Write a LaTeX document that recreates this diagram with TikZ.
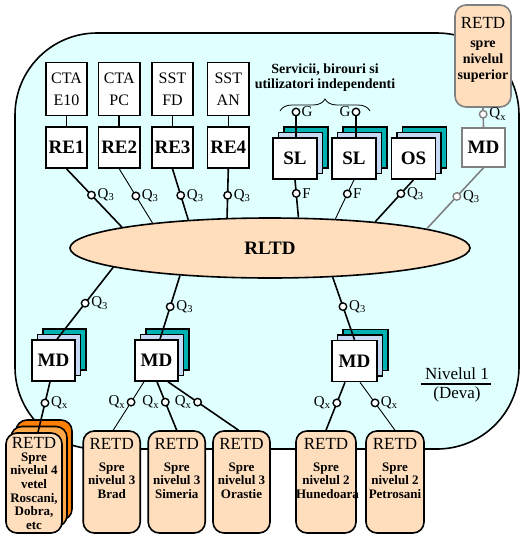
\documentclass[tikz,border=0pt]{standalone}
\usepackage{fontspec}
\setmainfont{Liberation Serif}
\usetikzlibrary{shapes.geometric,shadows,decorations.pathreplacing}
\definecolor{bgcyan}{RGB}{224,255,255}
\definecolor{peach}{RGB}{255,222,190}
\definecolor{tealc}{RGB}{0,178,178}
\definecolor{lblue}{RGB}{198,218,245}
\definecolor{orgmid}{RGB}{255,168,72}
\definecolor{orgback}{RGB}{255,128,0}
\definecolor{grayc}{RGB}{128,128,128}
\newcommand\RetdTxt[5]{\parbox[c][#1][t]{#2}{\centering\fontsize{17}{17}\selectfont RETD\par\vspace{#3}\fontsize{13}{#4}\selectfont\bfseries #5}}
\newcommand\QLab[1]{{\fontsize{15}{15}\selectfont Q\textsubscript{#1}}}
\newcommand\PLab[1]{{\fontsize{15}{15}\selectfont #1}}
\tikzset{
  plainbox/.style={draw, line width=1.6pt, fill=white, inner sep=0pt, align=center},
  ctabox/.style={plainbox, minimum width=41.5pt, minimum height=53pt, font=\fontsize{16}{22}\selectfont},
  rebox/.style={plainbox, minimum width=41.5pt, minimum height=41pt, font=\fontsize{19}{19}\selectfont\bfseries},
  stackbox/.style={plainbox, minimum width=44pt, minimum height=41pt, font=\fontsize{19}{19}\selectfont\bfseries,
    general shadow={draw, line width=1.6pt, fill=tealc, shadow xshift=11pt, shadow yshift=11pt},
    general shadow={draw, line width=1.6pt, fill=lblue, shadow xshift=5.5pt, shadow yshift=5.5pt}},
  retdbox/.style={draw, line width=1.6pt, fill=peach, rounded corners=11pt, inner sep=0pt, minimum height=102pt},
  orangestack/.style={
    general shadow={draw, line width=1.6pt, fill=orgback, shadow xshift=10pt, shadow yshift=13pt},
    general shadow={draw, line width=1.6pt, fill=orgmid, shadow xshift=5pt, shadow yshift=6.5pt}},
  conn/.style={line width=1.6pt},
  connthin/.style={line width=0.9pt},
  port/.style={circle, draw, line width=1.4pt, fill=white, inner sep=0pt, minimum size=7.5pt, label distance=1.5pt},
  qr/.style={label={[inner sep=1pt]right:\QLab{#1}}},
  ql/.style={label={[inner sep=1pt]left:\QLab{#1}}},
}
\begin{document}
\begin{tikzpicture}[x=1pt,y=-1pt]
\useasboundingbox (0,0) rectangle (525,539);
% level background
\draw[line width=1.6pt, fill=bgcyan, rounded corners=82pt] (15,33) rectangle (519,449);

% exchanges
\node[ctabox] (cta1) at (66.5,89) {CTA\\E10};
\node[ctabox] (cta2) at (119.2,89) {CTA\\PC};
\node[ctabox] (sst1) at (172.5,89) {SST\\FD};
\node[ctabox] (sst2) at (228.3,89) {SST\\AN};
\node[rebox] (re1) at (66.5,147.5) {RE1};
\node[rebox] (re2) at (119.2,147.5) {RE2};
\node[rebox] (re3) at (172.5,147.5) {RE3};
\node[rebox] (re4) at (228.3,147.5) {RE4};
\draw[conn] (cta1) -- (re1);
\draw[conn] (cta2) -- (re2);
\draw[conn] (sst1) -- (re3);
\draw[conn] (sst2) -- (re4);

% services
\node[font=\fontsize{14}{15}\selectfont\bfseries, align=center, inner sep=0pt] (serv) at (325,77.5) {Servicii, birouri si\\utilizatori independenti};
\draw[line width=0.8pt, decorate, decoration={brace, amplitude=12pt}] (280,111) -- (370,111);
\node[stackbox] (sl1) at (295,158.5) {SL};
\node[stackbox] (sl2) at (354,158.5) {SL};
\node[stackbox] (os) at (413.5,158.5) {OS};
\node[port, label={[inner sep=1pt]right:\PLab{G}}] (g1) at (296,112) {};
\node[port, label={[inner sep=1pt]left:\PLab{G}}] (g2) at (356,112) {};
\draw[conn] ([xshift=1pt]sl1.north) -- (g1);
\draw[conn] ([xshift=2pt]sl2.north) -- (g2);

% upper level
\node[retdbox, draw=grayc, minimum width=56pt] (sup) at (483,56)
  {\parbox[c][78pt][t]{56pt}{\centering\fontsize{17}{17}\selectfont RETD\par\vspace{3.5pt}\fontsize{14}{16}\selectfont\bfseries spre\\nivelul\\superior}};
\node[plainbox, draw=grayc, minimum width=43pt, minimum height=39pt, font=\fontsize{19}{19}\selectfont\bfseries] (mdr) at (483.5,147.5) {MD};
\draw[conn, draw=grayc] (mdr.north) -- node[port, draw=grayc, pos=.67, qr=x] (px0) {} (sup.south);

% RLTD
\node[ellipse, draw, line width=1.6pt, fill=peach, minimum width=400pt, minimum height=60pt, inner sep=0pt,
  font=\fontsize{19}{19}\selectfont\bfseries] (rltd) at (270,248) {RLTD};

\draw[conn] (re1.south) -- node[port, pos=.45, qr=3] (p1) {} (rltd.172.7);
\draw[connthin] (re2.south) -- node[port, pos=.5, qr=3] (p2) {} (rltd.168.7);
\draw[conn] (re3.south) -- node[port, pos=.52, qr=3] (p3) {} (rltd.161);
\draw[conn] (re4.south) -- node[port, pos=.54, qr=3] (p4) {} (rltd.145.1);
\draw[conn] (sl1.south) -- node[port, pos=.36, label={[inner sep=1pt]right:\PLab{F}}] (f1) {} (rltd.47.7);
\draw[connthin] (sl2.south) -- node[port, pos=.36, label={[inner sep=1pt]right:\PLab{F}}] (f2) {} (rltd.24.3);
\draw[conn] (os.south) -- node[port, pos=.33, qr=3] (p5) {} (rltd.14);
\draw[conn, draw=grayc] (mdr.south) -- node[port, draw=grayc, pos=.47, qr=3] (p6) {} (rltd.7.4);

% lower multiplexers
\node[stackbox, minimum width=43pt] (md1) at (53.5,360.5) {MD};
\node[stackbox, minimum width=43pt] (md2) at (156.5,360.5) {MD};
\node[stackbox, minimum width=45pt] (md3) at (354.5,361) {MD};

% lower RETD
\node[retdbox, orangestack, minimum width=56pt, minimum height=100pt] (rosc) at (34,483)
  {\RetdTxt{91pt}{56pt}{-1pt}{13.6}{Spre\\nivelul 4\\vetel\\Roscani,\\Dobra,\\etc}};
\node[retdbox, minimum width=57pt] (brad) at (111.7,482)
  {\RetdTxt{87pt}{57pt}{8.3pt}{13.5}{Spre\\nivelul 3\\Brad}};
\node[retdbox, minimum width=57pt] (sim) at (176.7,482)
  {\RetdTxt{87pt}{57pt}{8.3pt}{13.5}{Spre\\nivelul 3\\Simeria}};
\node[retdbox, minimum width=57pt] (ora) at (241.5,482)
  {\RetdTxt{87pt}{57pt}{8.3pt}{13.5}{Spre\\nivelul 3\\Orastie}};
\node[retdbox, minimum width=60pt] (hun) at (326,482)
  {\RetdTxt{87pt}{60pt}{8.3pt}{13.5}{Spre\\nivelul 2\\Hunedoara}};
\node[retdbox, minimum width=58pt] (pet) at (395,482)
  {\RetdTxt{87pt}{58pt}{8.3pt}{13.5}{Spre\\nivelul 2\\Petrosani}};

\draw[conn] (rltd.187.3) -- node[port, pos=.5, qr=3] (p7) {} ([xshift=3.5pt]md1.north);
\draw[conn] (rltd.197) -- node[port, pos=.49, qr=3] (p8) {} ([xshift=3.5pt]md2.north);
\draw[conn] (rltd.335.3) -- node[port, pos=.47, qr=3] (p9) {} (md3.north);

\draw[conn] ([xshift=-3.5pt]md1.south) -- node[port, pos=.42, qr=x] (x1) {} ([xshift=4pt]rosc.north);
\draw[connthin] ([xshift=-12.5pt]md2.south) -- node[port, pos=.42, ql=x] (x2) {} ([xshift=1.5pt]brad.north);
\draw[conn] ([xshift=0.5pt]md2.south) -- node[port, pos=.42, ql=x] (x3) {} (sim.north);
\draw[conn] ([xshift=11.5pt]md2.south) -- node[port, pos=.42, ql=x] (x4) {} ([xshift=-3pt]ora.north);
\draw[conn] ([xshift=-9.5pt]md3.south) -- node[port, pos=.43, ql=x] (x5) {} (hun.north);
\draw[connthin] ([xshift=5.5pt]md3.south) -- node[port, pos=.43, qr=x] (x6) {} (pet.north);

% level caption
\node[font=\fontsize{17}{17}\selectfont, inner sep=0pt] (niv1) at (457,374) {Nivelul 1};
\node[font=\fontsize{17}{17}\selectfont, inner sep=0pt] (niv2) at (457,394) {(Deva)};
\draw[line width=1.2pt] ([xshift=-4pt]niv1.south west |- 0,384) -- ([xshift=2pt]niv1.south east |- 0,384);
\end{tikzpicture}
\end{document}
